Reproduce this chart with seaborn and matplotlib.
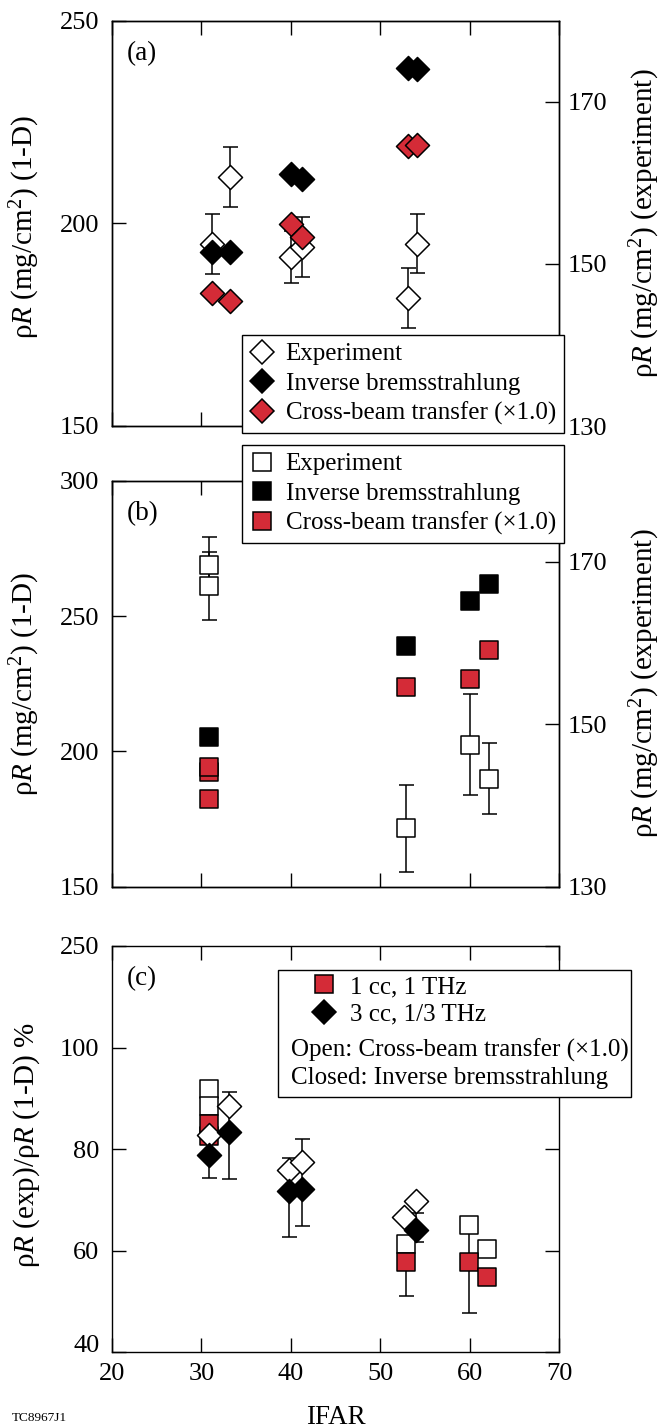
import numpy as np
import matplotlib
matplotlib.use("Agg")
import matplotlib.pyplot as plt
from matplotlib.lines import Line2D
from matplotlib.patches import Rectangle
import seaborn as sns

# ---------------------------------------------------------------- data
# (a) 3 cc, 1/3 THz shots: areal density vs IFAR
a_ifar = [31.2, 33.15, 40.0, 41.2, 53.07, 54.08]
a_exp = [152.4, 160.7, 150.9, 152.1, 145.8, 152.5]        # experiment (right axis)
a_exp_err = [3.7, 3.7, 3.2, 3.7, 3.65, 3.6]
a_ib = [192.9, 192.9, 212.2, 210.9, 238.3, 238.0]          # 1-D, inverse bremsstrahlung
a_cbet = [182.9, 180.8, 199.8, 196.6, 219.1, 219.3]        # 1-D, cross-beam transfer

# (b) 1 cc, 1 THz shots
b_exp_ifar = [30.9, 30.9, 52.9, 60.06, 62.2]
b_exp = [169.6, 167.0, 137.2, 147.5, 143.3]
b_exp_err = [3.5, 4.2, 5.35, 6.2, 4.4]
b_ib_ifar = [30.9, 52.9, 60.06, 62.2]
b_ib = [205.2, 238.9, 255.6, 261.7]
b_cbet_ifar = [30.9, 30.9, 30.9, 52.9, 60.06, 62.2]
b_cbet = [192.5, 194.1, 182.4, 223.9, 226.6, 237.5]

# (c) ratio experiment / 1-D in percent
c_sq_ifar = [30.9, 30.9, 52.9, 59.9, 62.0]
c_sq_open = [91.8, 88.5, 61.3, 65.1, 60.3]
c_sq_closed = [82.5, 85.0, 57.8, 57.8, 54.9]
c_sq_err_lo = [0.0, 0.0, 6.8, 10.1, 0.0]
c_sq_err_hi = [0.0, 0.0, 4.5, 7.0, 0.0]
c_dm_ifar = [30.8, 33.1, 39.8, 41.2, 52.7, 53.97]
c_dm_open = [82.8, 88.4, 75.8, 77.4, 66.7, 69.8]
c_dm_closed_ifar = [30.8, 33.1, 39.8, 41.2, 53.97]
c_dm_closed = [78.9, 83.4, 71.8, 72.2, 64.1]
c_dm_err_lo = [4.6, 9.3, 9.0, 7.3, 2.4]
c_dm_err_hi = [4.6, 7.8, 6.4, 9.8, 3.4]

x_ticks = [20, 30, 40, 50, 60, 70]
c_yticks = [40, 60, 80, 100, 120]
c_yticklabels = ["40", "60", "80", "100", "250"]

# ---------------------------------------------------------------- style
sns.set_theme(style="ticks")
plt.rcParams.update({
    "font.family": ["Liberation Serif", "DejaVu Serif"],
    "mathtext.fontset": "custom",
    "mathtext.rm": "Liberation Serif",
    "mathtext.it": "Liberation Serif:italic",
    "mathtext.bf": "Liberation Serif:bold",
    "axes.edgecolor": "black",
    "axes.linewidth": 1.0,
    "xtick.color": "black",
    "ytick.color": "black",
    "text.color": "black",
    "axes.labelcolor": "black",
})

RED = "#d42b37"
TICK_FS = 19
LABEL_FS = 21
XLABEL_FS = 19.5
PANEL_FS = 19.5
LEG_FS = 18
EDGE_LW = 1.1
DIAMOND_S = 150
SQUARE_S = 160

W, H = 664, 1428
fig = plt.figure(figsize=(W / 100, H / 100), dpi=100)
fig.patch.set_facecolor("white")


def rect(l, t, r, b):
    return [l / W, 1 - b / H, (r - l) / W, (b - t) / H]


def fpt(x, y):
    return (x / W, 1 - y / H)


def style_axis(ax, show_xlabels=False, mirror_y=False):
    ax.set_xlim(20, 70)
    ax.set_xticks(x_ticks)
    ax.tick_params(axis="both", which="major", direction="in", length=10, width=1.0,
                   labelsize=TICK_FS, top=True, right=mirror_y, pad=8)
    ax.tick_params(axis="y", pad=9)
    if not show_xlabels:
        ax.tick_params(axis="x", labelbottom=False)
    for s in ax.spines.values():
        s.set_visible(True)
        s.set_linewidth(1.0)
        s.set_color("black")


def style_right(ax2):
    ax2.set_ylim(130, 180)
    ax2.set_yticks([130, 150, 170])
    ax2.tick_params(axis="y", direction="in", length=10, width=1.0,
                    labelsize=TICK_FS, pad=6)


def scatter(ax, x, y, marker, face, s, z):
    sns.scatterplot(x=x, y=y, ax=ax, marker=marker, s=s, color=face,
                    edgecolor="black", linewidth=EDGE_LW, zorder=z, legend=False)


def errbars(ax, x, y, lo, hi):
    ax.errorbar(x, y, yerr=[lo, hi], fmt="none", ecolor="black", elinewidth=1.1,
                capsize=5.4, capthick=1.1, zorder=2)


def handle(marker, face, ms):
    return Line2D([], [], ls="none", marker=marker, markersize=ms,
                  markerfacecolor=face, markeredgecolor="black", markeredgewidth=EDGE_LW)


def make_legend(ax, handles, labels, anchor):
    lg = ax.legend(handles=handles, labels=labels, loc="upper left",
                   bbox_to_anchor=fpt(*anchor), bbox_transform=fig.transFigure,
                   borderaxespad=0, fontsize=LEG_FS, frameon=True, fancybox=False,
                   framealpha=1, edgecolor="black", borderpad=0.31, labelspacing=0.28,
                   handlelength=1.0, handletextpad=0.45)
    lg.get_frame().set_linewidth(1.0)
    lg.set_zorder(10)
    return lg


series_labels = ["Experiment", "Inverse bremsstrahlung", "Cross-beam transfer (×1.0)"]
ylab_1d = r"ρ$R$ (mg/cm$^2$) (1-D)"
ylab_exp = r"ρ$R$ (mg/cm$^2$) (experiment)"
LEFT_LAB_X = -0.1566
RIGHT_LAB_X = 1.155

# ---------------------------------------------------------------- panel (a)
ax_a = fig.add_axes(rect(112, 20.7, 559, 426))
ax_a2 = ax_a.twinx()
ax_a.set_zorder(ax_a2.get_zorder() + 1)
ax_a.patch.set_visible(False)

style_axis(ax_a)
ax_a.set_ylim(150, 250)
ax_a.set_yticks([150, 200, 250])
style_right(ax_a2)

errbars(ax_a2, a_ifar, a_exp, a_exp_err, a_exp_err)
scatter(ax_a2, a_ifar, a_exp, "D", "white", DIAMOND_S, 3)
scatter(ax_a, a_ifar, a_ib, "D", "black", DIAMOND_S, 3)
scatter(ax_a, a_ifar, a_cbet, "D", RED, DIAMOND_S, 4)

ax_a.set_ylabel(ylab_1d, fontsize=LABEL_FS)
ax_a.yaxis.set_label_coords(LEFT_LAB_X, 0.49)
ax_a2.set_ylabel(ylab_exp, fontsize=LABEL_FS)
ax_a2.yaxis.set_label_coords(RIGHT_LAB_X, 0.5)
ax_a.text(0.033, 0.92, "(a)", transform=ax_a.transAxes, fontsize=PANEL_FS, va="center")

make_legend(ax_a, [handle("D", "white", 12), handle("D", "black", 12), handle("D", RED, 12)],
            series_labels, (241.7, 335))

# ---------------------------------------------------------------- panel (b)
ax_b = fig.add_axes(rect(112, 480.7, 559, 886.7))
ax_b2 = ax_b.twinx()
ax_b.set_zorder(ax_b2.get_zorder() + 1)
ax_b.patch.set_visible(False)

style_axis(ax_b)
ax_b.set_ylim(150, 300)
ax_b.set_yticks([150, 200, 250, 300])
style_right(ax_b2)

errbars(ax_b2, b_exp_ifar, b_exp, b_exp_err, b_exp_err)
scatter(ax_b2, b_exp_ifar, b_exp, "s", "white", SQUARE_S, 3)
scatter(ax_b, b_ib_ifar, b_ib, "s", "black", SQUARE_S, 3)
scatter(ax_b, b_cbet_ifar, b_cbet, "s", RED, SQUARE_S, 4)

ax_b.set_ylabel(ylab_1d, fontsize=LABEL_FS)
ax_b.yaxis.set_label_coords(LEFT_LAB_X, 0.5)
ax_b2.set_ylabel(ylab_exp, fontsize=LABEL_FS)
ax_b2.yaxis.set_label_coords(RIGHT_LAB_X, 0.5)
ax_b.text(0.033, 0.92, "(b)", transform=ax_b.transAxes, fontsize=PANEL_FS, va="center")

make_legend(ax_b, [handle("s", "white", 12.5), handle("s", "black", 12.5), handle("s", RED, 12.5)],
            series_labels, (241.7, 445))

# ---------------------------------------------------------------- panel (c)
ax_c = fig.add_axes(rect(112, 946, 559, 1352.3))
style_axis(ax_c, show_xlabels=True, mirror_y=True)
ax_c.set_ylim(40, 120)
ax_c.set_yticks(c_yticks)
ax_c.set_yticklabels(c_yticklabels)
ax_c.get_yticklabels()[0].set_verticalalignment("baseline")
ax_c.set_xticklabels([str(t) for t in x_ticks])

errbars(ax_c, c_sq_ifar, c_sq_closed, c_sq_err_lo, c_sq_err_hi)
errbars(ax_c, c_dm_closed_ifar, c_dm_closed, c_dm_err_lo, c_dm_err_hi)
scatter(ax_c, c_sq_ifar, c_sq_open, "s", "white", SQUARE_S, 3)
scatter(ax_c, c_sq_ifar, c_sq_closed, "s", RED, SQUARE_S, 3)
scatter(ax_c, c_dm_ifar, c_dm_open, "D", "white", DIAMOND_S, 4)
scatter(ax_c, c_dm_closed_ifar, c_dm_closed, "D", "black", DIAMOND_S, 4)

ax_c.set_ylabel(r"ρ$R$ (exp)/ρ$R$ (1-D) %", fontsize=LABEL_FS)
ax_c.yaxis.set_label_coords(LEFT_LAB_X, 0.51)
ax_c.set_xlabel("IFAR", fontsize=XLABEL_FS, labelpad=14)
ax_c.text(0.033, 0.92, "(c)", transform=ax_c.transAxes, fontsize=PANEL_FS, va="center")

# key box for panel (c): two marker rows plus two plain text rows
box_l, box_t, box_r, box_b = 278.3, 970, 631, 1096.7
ax_c.add_patch(Rectangle(fpt(box_l, box_b), (box_r - box_l) / W, (box_b - box_t) / H,
                         transform=fig.transFigure, facecolor="white", edgecolor="black",
                         linewidth=1.0, zorder=8, clip_on=False))
lg_c = ax_c.legend(handles=[handle("s", RED, 12.5), handle("D", "black", 12)],
                   labels=["1 cc, 1 THz", "3 cc, 1/3 THz"], loc="upper left",
                   bbox_to_anchor=fpt(311.5, 975.5), bbox_transform=fig.transFigure,
                   borderaxespad=0, fontsize=LEG_FS, frameon=False, borderpad=0.0,
                   labelspacing=0.19, handlelength=1.0, handletextpad=0.55)
lg_c.set_zorder(9)
ax_c.text(*fpt(290.7, 1050), "Open: Cross-beam transfer (×1.0)", transform=fig.transFigure,
          fontsize=LEG_FS, va="center", ha="left", zorder=9)
ax_c.text(*fpt(290.7, 1078), "Closed: Inverse bremsstrahlung", transform=fig.transFigure,
          fontsize=LEG_FS, va="center", ha="left", zorder=9)

fig.text(*fpt(12, 1412), "TC8967J1", fontsize=9.5, va="top", ha="left")

fig.savefig("out.png", dpi=100, facecolor="white")
